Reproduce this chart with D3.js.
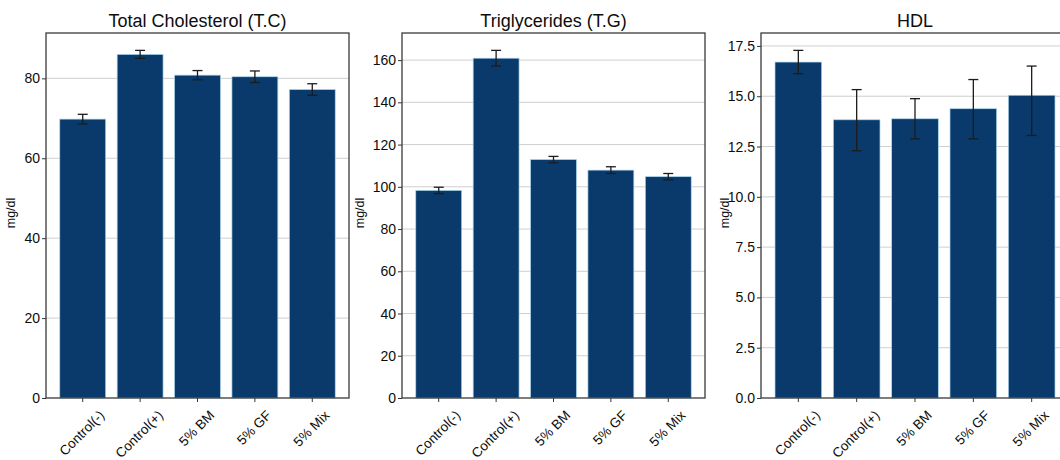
<!DOCTYPE html>
<html>
<head>
<meta charset="utf-8">
<script src="https://d3js.org/d3.v7.min.js"></script>
<style>
  html, body { margin: 0; padding: 0; background: #fff; }
  svg text { font-family: "Liberation Sans", Arial, Helvetica, sans-serif; }
</style>
</head>
<body>
<div id="chart"></div>
<script>
// ### DATA
var groups = ["Control(-)", "Control(+)", "5% BM", "5% GF", "5% Mix"];

var tcMean = [69.8, 86.0, 80.8, 80.4, 77.2];
var tcErr = [1.2, 1.0, 1.15, 1.45, 1.45];
var tcTicks = [0, 20, 40, 60, 80];

var tgMean = [98.3, 160.9, 112.9, 107.9, 104.8];
var tgErr = [1.5, 3.7, 1.5, 1.6, 1.5];
var tgTicks = [0, 20, 40, 60, 80, 100, 120, 140, 160];

var hdlMean = [16.7, 13.83, 13.88, 14.38, 15.05];
var hdlErr = [0.58, 1.5, 1.0, 1.45, 1.45];     // upper half
var hdlErrLo = [0.58, 1.54, 1.0, 1.5, 2.0];    // lower half (Mix bar is lopsided)
var hdlTicks = [0, 2.5, 5, 7.5, 10, 12.5, 15, 17.5];

var titles = ["Total Cholesterol (T.C)", "Triglycerides (T.G)", "HDL"];
var yLabel = "mg/dl";

// ### LAYOUT
var width = 1060, height = 460;
var plotTop = 33, plotBottom = 398;
var barColor = "#0a3a6c";

var panels = [
  {title: titles[0], mean: tcMean, err: tcErr, errLo: tcErr, ticks: tcTicks,
   fmt: d3.format("d"), left: 46, w: 303, labelDx: -35},
  {title: titles[1], mean: tgMean, err: tgErr, errLo: tgErr, ticks: tgTicks,
   fmt: d3.format("d"), left: 402, w: 303, labelDx: -42},
  {title: titles[2], mean: hdlMean, err: hdlErr, errLo: hdlErrLo, ticks: hdlTicks,
   fmt: d3.format(".1f"), left: 761, w: 308, labelDx: -36}
];

var svg = d3.select("#chart").append("svg")
  .attr("width", width)
  .attr("height", height);

panels.forEach(drawPanel);

function drawPanel(p) {
  var g = svg.append("g").attr("transform", "translate(" + p.left + ",0)");

  var x = d3.scaleBand()
    .domain(groups)
    .range([0, p.w])
    .paddingInner(0.2)
    .paddingOuter(0.24);

  // matplotlib style autoscale: 5% headroom over the tallest error bar
  var top = d3.max(p.mean, function(d, i) { return d + p.err[i]; }) * 1.05;
  var y = d3.scaleLinear().domain([0, top]).range([plotBottom, plotTop]);

  // grid
  g.selectAll("line.grid").data(p.ticks.filter(function(t) { return t > 0; }))
    .enter().append("line")
    .attr("class", "grid")
    .attr("x1", 0).attr("x2", p.w)
    .attr("y1", function(d) { return y(d); })
    .attr("y2", function(d) { return y(d); })
    .attr("stroke", "#cfcfcf")
    .attr("stroke-width", 1);

  // bars
  g.selectAll("rect.bar").data(p.mean)
    .enter().append("rect")
    .attr("class", "bar")
    .attr("x", function(d, i) { return x(groups[i]); })
    .attr("y", function(d) { return y(d); })
    .attr("width", x.bandwidth())
    .attr("height", function(d) { return plotBottom - y(d); })
    .attr("fill", barColor)
    .attr("stroke", "#a9d6ee")
    .attr("stroke-width", 0.7);

  // error bars
  var eb = g.selectAll("g.err").data(p.mean)
    .enter().append("g")
    .attr("class", "err")
    .attr("stroke", "#1c1c1c")
    .attr("stroke-width", 1.3);
  var cx = function(i) { return x(groups[i]) + x.bandwidth() / 2; };
  var hi = function(d, i) { return y(d + p.err[i]); };
  var lo = function(d, i) { return y(d - p.errLo[i]); };
  eb.append("line")
    .attr("x1", function(d, i) { return cx(i); })
    .attr("x2", function(d, i) { return cx(i); })
    .attr("y1", lo)
    .attr("y2", hi);
  [lo, hi].forEach(function(f) {
    eb.append("line")
      .attr("x1", function(d, i) { return cx(i) - 5; })
      .attr("x2", function(d, i) { return cx(i) + 5; })
      .attr("y1", f)
      .attr("y2", f);
  });

  // y axis
  var yAxis = d3.axisLeft(y).tickValues(p.ticks).tickFormat(p.fmt)
    .tickSize(4).tickPadding(2);
  var ya = g.append("g").call(yAxis);
  ya.select(".domain").remove();
  ya.selectAll("line").attr("stroke", "#333");
  ya.selectAll("text").attr("font-size", 14).attr("fill", "#0d0d0d");

  // x axis ticks, labels rotated by hand
  var xa = g.append("g").attr("transform", "translate(0," + plotBottom + ")")
    .call(d3.axisBottom(x).tickSize(4).tickFormat(""));
  xa.select(".domain").remove();
  xa.selectAll("line").attr("stroke", "#333");

  var fs = 13.5;
  g.selectAll("text.xl").data(groups)
    .enter().append("text")
    .attr("class", "xl")
    .attr("font-size", fs)
    .attr("fill", "#0d0d0d")
    .attr("text-anchor", "middle")
    .attr("dy", "0.35em")
    .text(function(d) { return d; })
    .attr("transform", function(d) {
      var L = this.getComputedTextLength();
      var half = (L + fs) * Math.SQRT1_2 / 2;
      return "translate(" + (x(d) + x.bandwidth() / 2 - 1) + "," +
        (plotBottom + 10 + half) + ") rotate(-45)";
    });

  // frame
  g.append("rect")
    .attr("x", 0).attr("y", plotTop)
    .attr("width", p.w).attr("height", plotBottom - plotTop)
    .attr("fill", "none")
    .attr("stroke", "#3a3a3a")
    .attr("stroke-width", 1.3);

  // title and y label
  g.append("text")
    .attr("x", p.w / 2).attr("y", 27)
    .attr("text-anchor", "middle")
    .attr("font-size", 18)
    .attr("fill", "#0d0d0d")
    .text(p.title);

  g.append("text")
    .attr("transform", "translate(" + p.labelDx + "," + 213 + ") rotate(-90)")
    .attr("text-anchor", "middle")
    .attr("dy", "0.35em")
    .attr("font-size", 12.5)
    .attr("fill", "#0d0d0d")
    .text(yLabel);
}
</script>
</body>
</html>
